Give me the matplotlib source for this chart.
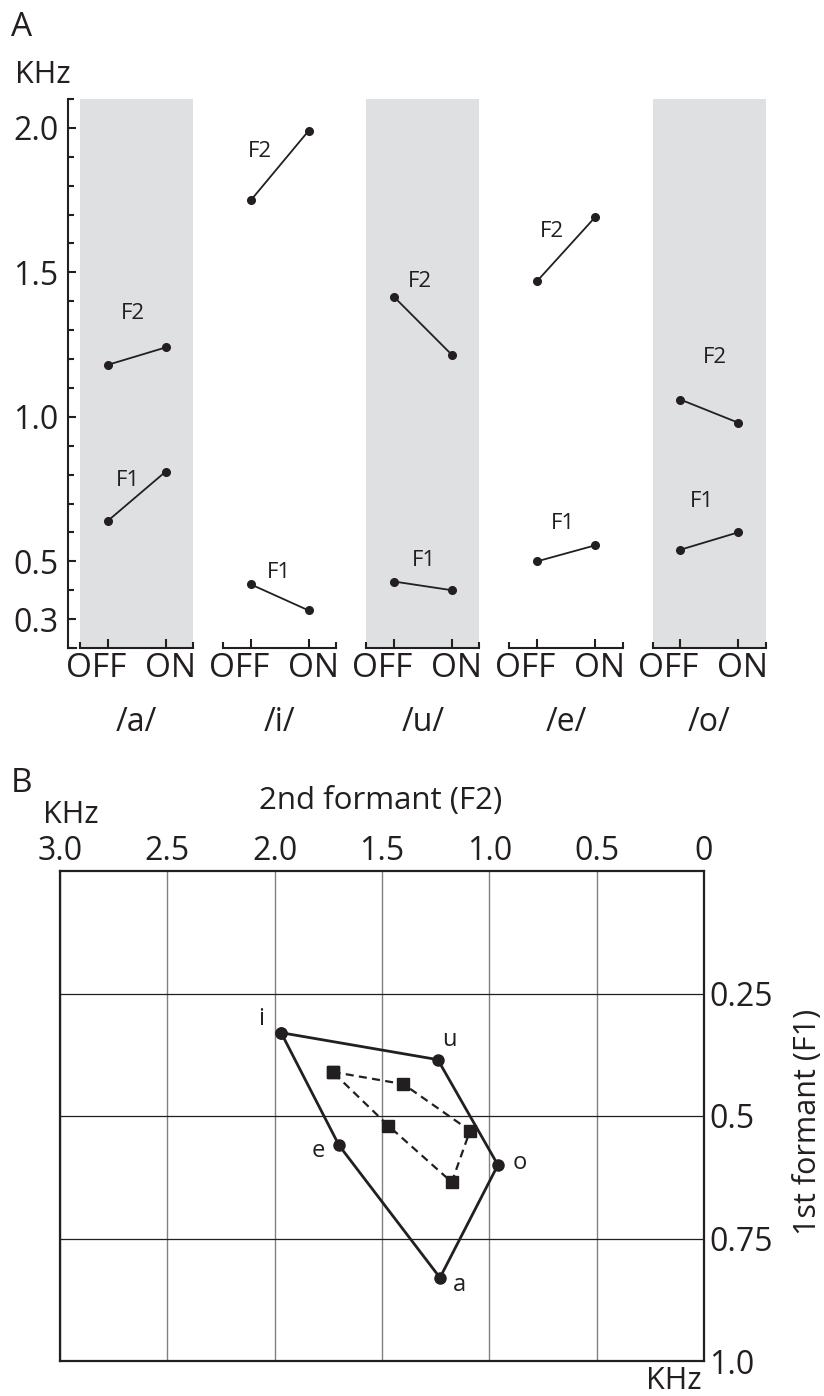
"""
Formant frequencies of the five Japanese vowels with the device OFF / ON (A)
and the resulting vowel chart, F2 against F1 (B).
"""

import matplotlib.pyplot as plt
from matplotlib.ticker import MultipleLocator
from matplotlib.transforms import ScaledTranslation

plt.rcParams['font.family'] = ['Open Sans', 'DejaVu Sans']

INK = '#231f20'
BAND = '#dfe0e2'

# Panel A: formant frequencies in kHz
vowels = ['/a/', '/i/', '/u/', '/e/', '/o/']
conditions = ['OFF', 'ON']
f1_off = [0.64, 0.42, 0.43, 0.50, 0.54]
f1_on = [0.81, 0.33, 0.40, 0.555, 0.60]
f2_off = [1.18, 1.75, 1.415, 1.47, 1.06]
f2_on = [1.24, 1.99, 1.215, 1.69, 0.98]
shaded = [True, False, True, False, True]

# Panel B: vowel chart in kHz
chart_labels = ['i', 'u', 'o', 'a', 'e']
chart_f2 = [1.97, 1.24, 0.96, 1.23, 1.70]
chart_f1 = [0.33, 0.385, 0.60, 0.83, 0.56]
inner_f2 = [1.73, 1.40, 1.09, 1.175, 1.47]
inner_f1 = [0.41, 0.435, 0.53, 0.635, 0.52]

# label placement (pixels from the segment midpoint / from the point)
f2_label_offsets = [(-4, 43), (-20, 14), (-3, 44), (-14, 18), (6, 54)]
f1_label_offsets = [(-9, 16), (-1, 25), (1, 25), (-3, 30), (-7, 40)]
chart_label_offsets = {'i': (-20, 14), 'u': (12, 20), 'o': (22, 2),
                       'a': (19, -7), 'e': (-21, -6)}

W, H = 824, 1396
fig = plt.figure(figsize=(W / 100, H / 100), dpi=100)

# ---------------- Panel A ----------------
axA = fig.add_axes([68 / W, 1 - 648 / H, 700 / W, 549 / H])
step = 2.48
pad = 0.48
off_x = [i * step for i in range(len(vowels))]
on_x = [x + 1 for x in off_x]
xform = axA.get_xaxis_transform()

for i, v in enumerate(vowels):
    if shaded[i]:
        axA.axvspan(off_x[i] - pad, on_x[i] + pad, color=BAND, lw=0, zorder=0)
    for lo, hi, offs, name in ((f2_off, f2_on, f2_label_offsets, 'F2'),
                               (f1_off, f1_on, f1_label_offsets, 'F1')):
        axA.plot([off_x[i], on_x[i]], [lo[i], hi[i]], color=INK, lw=1.3,
                 marker='o', ms=5.5, zorder=3)
        axA.annotate(name, xy=((off_x[i] + on_x[i]) / 2, (lo[i] + hi[i]) / 2),
                     xytext=offs[i], textcoords='offset pixels',
                     ha='center', va='center', fontsize=16, color=INK)
    # little bracket axis under each vowel
    axA.plot([off_x[i] - pad, on_x[i] + pad], [0, 0], transform=xform,
             color=INK, lw=1.5, marker=2, ms=4.5, mew=1.5, clip_on=False)
    axA.text((off_x[i] + on_x[i]) / 2, -0.135, v, transform=xform,
             ha='center', va='center', fontsize=23, color=INK)

axA.set_xlim(off_x[0] - 0.69, on_x[-1] + 0.52)
axA.set_ylim(0.2, 2.1)
axA.set_xticks(off_x + on_x)
axA.set_xticklabels([conditions[0]] * len(vowels) + [conditions[1]] * len(vowels))
axA.set_yticks([0.3, 0.5, 1.0, 1.5, 2.0])
axA.set_yticklabels(['0.3', '0.5', '1.0', '1.5', '2.0'])
axA.yaxis.set_minor_locator(MultipleLocator(0.1))
axA.tick_params(axis='y', which='major', direction='in', length=6, width=1.5,
                pad=7, labelsize=23, colors=INK)
axA.tick_params(axis='y', which='minor', direction='in', length=4, width=1.5,
                colors=INK)
axA.tick_params(axis='x', direction='in', length=6.5, width=1.5, pad=3,
                labelsize=24, colors=INK)
# OFF sits a little left of its tick, ON a little right
for lab in axA.get_xticklabels():
    dx = -12 if lab.get_text() == conditions[0] else 5
    lab.set_transform(lab.get_transform()
                      + ScaledTranslation(dx / 100, 0, fig.dpi_scale_trans))
axA.spines['top'].set_visible(False)
axA.spines['right'].set_visible(False)
axA.spines['left'].set_linewidth(1.5)
axA.spines['left'].set_color(INK)
axA.spines['bottom'].set_linewidth(1.5)
axA.spines['bottom'].set_color(INK)
axA.spines['bottom'].set_bounds(off_x[0] - 0.69, off_x[0] - 0.55)
axA.patch.set_alpha(0)

fig.text(11 / W, 1 - 27 / H, 'A', fontsize=24, va='center', color=INK)
fig.text(15 / W, 1 - 75 / H, 'KHz', fontsize=22, va='center', color=INK)

# ---------------- Panel B ----------------
axB = fig.add_axes([60 / W, 1 - 1361 / H, 644 / W, 490 / H])
axB.set_xlim(3.0, 0)
axB.set_ylim(1.0, 0)

axB.plot(chart_f2 + chart_f2[:1], chart_f1 + chart_f1[:1], color=INK, lw=2,
         marker='o', ms=8, zorder=4)
axB.plot(inner_f2 + inner_f2[:1], inner_f1 + inner_f1[:1], color=INK, lw=1.6,
         ls=(0, (3.6, 2.4)), marker='s', ms=8.5, zorder=4)
for name, x, y in zip(chart_labels, chart_f2, chart_f1):
    axB.annotate(name, xy=(x, y), xytext=chart_label_offsets[name],
                 textcoords='offset pixels', ha='center', va='center',
                 fontsize=17, color=INK)

axB.xaxis.tick_top()
axB.yaxis.tick_right()
axB.set_xticks([3.0, 2.5, 2.0, 1.5, 1.0, 0.5, 0])
axB.set_xticklabels(['3.0', '2.5', '2.0', '1.5', '1.0', '0.5', '0'])
axB.set_yticks([0.25, 0.5, 0.75, 1.0])
axB.set_yticklabels(['0.25', '0.5', '0.75', '1.0'])
axB.tick_params(axis='x', length=0, pad=2, labelsize=23, colors=INK)
axB.tick_params(axis='y', length=0, pad=4, labelsize=23, colors=INK)
axB.grid(axis='x', color='#808080', lw=1.0)
axB.grid(axis='y', color=INK, lw=0.9)
for sp in axB.spines.values():
    sp.set_linewidth(1.6)
    sp.set_color(INK)

fig.text(11 / W, 1 - 783 / H, 'B', fontsize=24, va='center', color=INK)
fig.text(43 / W, 1 - 815 / H, 'KHz', fontsize=22, va='center', color=INK)
fig.text(381 / W, 1 - 801 / H, '2nd formant (F2)', fontsize=22.5,
         ha='center', va='center', color=INK)
fig.text(808 / W, 1 - 1122 / H, '1st formant (F1)', fontsize=22, rotation=90,
         ha='center', va='center', color=INK)
fig.text(702 / W, 1 - 1381 / H, 'KHz', fontsize=22, ha='right', va='center',
         color=INK)

fig.savefig('out.png', dpi=100)
plt.close(fig)
